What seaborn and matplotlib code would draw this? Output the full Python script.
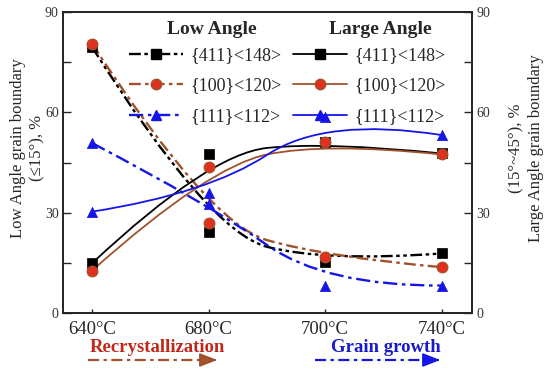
import numpy as np
import matplotlib
matplotlib.use('Agg')
import matplotlib.pyplot as plt
import seaborn as sns
from matplotlib.path import Path
from matplotlib.patches import PathPatch
from matplotlib.lines import Line2D

temps = ['640°C', '680°C', '700°C', '740°C']
# low angle boundaries (<=15 deg), %
low_411 = [79.5, 24.3, 15.3, 17.8]
low_100 = [80.5, 26.8, 16.8, 13.7]
low_111 = [50.8, 32.6, 8.1, 8.2]
# large angle boundaries (15-45 deg), %
large_411 = [14.9, 47.5, 51.2, 47.7]
large_100 = [12.7, 43.8, 51.0, 47.4]
large_111 = [30.3, 35.8, 58.7, 53.2]
labels = ['{411}<148>', '{100}<120>', '{111}<112>']

sns.set_theme(style='ticks')
plt.rcParams['font.family'] = ['Liberation Serif', 'DejaVu Serif']

BLACK = 'black'
BROWN = '#a0522d'
RED = '#e0301e'
BLUE = '#1515e6'
dash_blk = (0, (5, 1.5, 1.5, 1.5, 1.5, 1.5))
dash_brn = (0, (5, 1.8, 1.5, 1.8))
dash_blu = (0, (6, 2, 1.5, 2))


def bspline(ax, ys, color, ls, lw):
    # quadratic clamped B-spline with the data points as control points
    pts = np.column_stack([np.arange(len(ys)), ys])
    mid = (pts[1] + pts[2]) / 2
    verts = [pts[0], pts[1], mid, pts[2], pts[3]]
    codes = [Path.MOVETO, Path.CURVE3, Path.CURVE3, Path.CURVE3, Path.CURVE3]
    ax.add_patch(PathPatch(Path(verts, codes), fc='none', ec=color, lw=lw, ls=ls, zorder=2))


fig = plt.figure(figsize=(5.5, 3.71), dpi=100)
ax = fig.add_axes([63 / 550, 1 - 313 / 371, 409 / 550, 301 / 371])
xs = np.arange(len(temps))

bspline(ax, low_411, BLACK, dash_blk, 1.7)
bspline(ax, low_100, BROWN, dash_brn, 1.7)
bspline(ax, low_111, BLUE, dash_blu, 1.7)
bspline(ax, large_411, BLACK, '-', 1.3)
bspline(ax, large_100, BROWN, '-', 1.3)
bspline(ax, large_111, BLUE, '-', 1.3)

for ys in (low_411, large_411):
    sns.scatterplot(x=xs, y=ys, marker='s', s=60, color=BLACK, edgecolor=BLACK, linewidth=0.5, ax=ax, zorder=3)
for ys in (low_100, large_100):
    sns.scatterplot(x=xs, y=ys, marker='o', s=60, color=RED, edgecolor=BROWN, linewidth=0.8, ax=ax, zorder=4)
for ys in (low_111, large_111):
    sns.scatterplot(x=xs, y=ys, marker='^', s=55, color=BLUE, edgecolor=BLUE, linewidth=0.5, ax=ax, zorder=5)

ax.set_xlim(-0.25, 3.26)
ax.set_ylim(0, 90)
ax.set_xticks(xs)
ax.set_xticklabels(temps, fontsize=13.5)
ax.set_yticks([0, 30, 60, 90])
ax.set_yticks([15, 45, 75], minor=True)
ax.tick_params(axis='y', which='both', direction='in', length=6, width=1, pad=3,
               labelsize=10, labelcolor='#333333')
ax.tick_params(axis='x', direction='in', length=3, width=1, pad=6)
for sp in ax.spines.values():
    sp.set_visible(True)
    sp.set_linewidth(1.1)
    sp.set_color('black')

ax2 = ax.twinx()
ax2.set_ylim(0, 90)
ax2.set_yticks([0, 30, 60, 90])
ax2.set_yticks([15, 45, 75], minor=True)
ax2.tick_params(axis='y', which='both', direction='in', length=6, width=1, pad=3,
                labelsize=10, labelcolor='#333333')

fig.text(28 / 550, 1 - 148 / 371, 'Low Angle grain boundary\n(≤15°), %', rotation=90,
         ha='center', va='center', multialignment='center', fontsize=12, linespacing=1.3)
fig.text(526 / 550, 1 - 148 / 371, '(15°~45°), %\nLarge Angle grain boundary', rotation=90,
         ha='center', va='center', multialignment='center', fontsize=12, linespacing=1.3)

handles = [
    Line2D([0], [0], color=BLACK, ls=dash_blk, lw=1.7, marker='s', ms=7.5, mfc=BLACK, mec=BLACK),
    Line2D([0], [0], color=BROWN, ls=dash_brn, lw=1.7, marker='o', ms=7.5, mfc=RED, mec=BROWN),
    Line2D([0], [0], color=BLUE, ls=dash_blu, lw=1.7, marker='^', ms=7.5, mfc=BLUE, mec=BLUE),
    Line2D([0], [0], color=BLACK, ls='-', lw=1.3, marker='s', ms=7.5, mfc=BLACK, mec=BLACK),
    Line2D([0], [0], color=BROWN, ls='-', lw=1.3, marker='o', ms=7.5, mfc=RED, mec=BROWN),
    Line2D([0], [0], color=BLUE, ls='-', lw=1.3, marker='^', ms=7.5, mfc=BLUE, mec=BLUE),
]
ax2.legend(handles, labels + labels, ncol=2, frameon=False, fontsize=13,
           loc='upper left', bbox_to_anchor=(129 / 550, 1 - 47 / 371), bbox_transform=fig.transFigure,
           borderpad=0, borderaxespad=0, handlelength=3.0, handletextpad=0.4,
           columnspacing=0.6, labelspacing=0.75)

fig.text(212 / 550, 1 - 30 / 371, 'Low Angle', ha='center', va='center', fontsize=14, fontweight='bold')
fig.text(380 / 550, 1 - 30 / 371, 'Large Angle', ha='center', va='center', fontsize=14, fontweight='bold')

fig.text(157 / 550, 1 - 348 / 371, 'Recrystallization', ha='center', va='center',
         fontsize=13.5, fontweight='bold', color='#c0281c')
fig.text(386 / 550, 1 - 348 / 371, 'Grain growth', ha='center', va='center',
         fontsize=13.5, fontweight='bold', color='#1a1acc')

# process arrows under the axis
for x0, x1, col in ((88, 220, BROWN), (315, 443, BLUE)):
    y = 371 - 360
    fig.add_artist(Line2D([x0 / 550, (x1 - 8) / 550], [y / 371, y / 371], color=col, lw=1.6,
                          ls=(0, (5, 2, 1.5, 2)), transform=fig.transFigure))
    ax.annotate('', xy=(x1, y), xytext=(x1 - 10, y), xycoords='figure pixels', textcoords='figure pixels',
                arrowprops=dict(arrowstyle='-|>,head_length=0.9,head_width=0.35', color=col, lw=1.2))

fig.savefig('out.png', dpi=100)
